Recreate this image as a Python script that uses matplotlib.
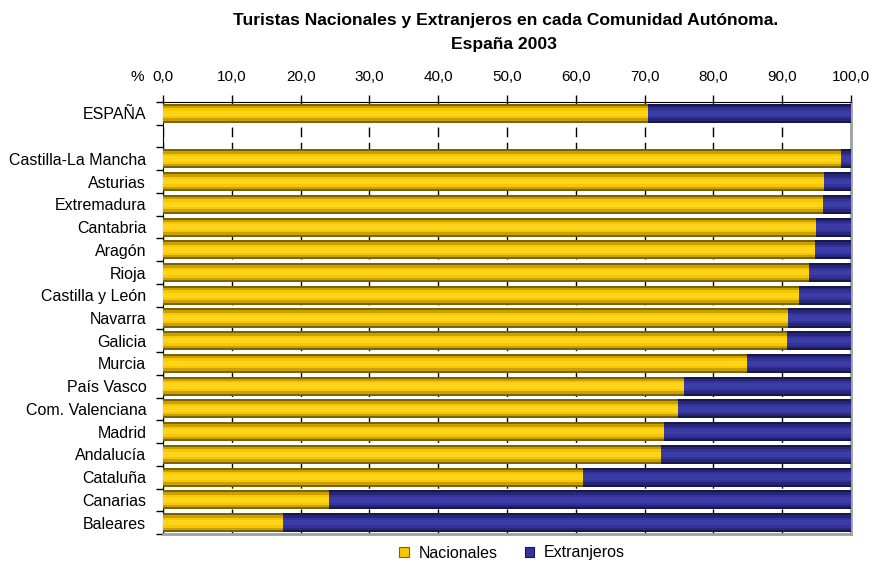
import matplotlib.pyplot as plt
import numpy as np
from matplotlib.patches import Patch

plt.rcParams['font.family'] = ['Liberation Sans', 'DejaVu Sans']

regions = ["ESPAÑA", "", "Castilla-La Mancha", "Asturias", "Extremadura", "Cantabria",
           "Aragón", "Rioja", "Castilla y León", "Navarra", "Galicia", "Murcia",
           "País Vasco", "Com. Valenciana", "Madrid", "Andalucía", "Cataluña",
           "Canarias", "Baleares"]
nacionales = [70.5, np.nan, 98.6, 96.1, 95.9, 94.9, 94.7, 93.9, 92.5, 90.8, 90.7,
              84.9, 75.7, 74.8, 72.8, 72.4, 61.0, 24.1, 17.4]
extranjeros = [100 - v for v in nacionales]
x_ticks = [0, 10, 20, 30, 40, 50, 60, 70, 80, 90, 100]

yellow = ["#7d6200", "#c9a000", "#f7c800", "#ffd41a"]
blue = ["#17174a", "#26267a", "#333399", "#3c3ca6"]
heights = [0.84, 0.66, 0.44, 0.24]

fig = plt.figure(figsize=(8.73, 5.63), dpi=100)
ax = fig.add_axes([163 / 873, 1 - 534 / 563, 688 / 873, 432 / 563])

y = np.arange(len(regions))[::-1]
nac = np.array(nacionales)
ext = np.array(extranjeros)
mask = ~np.isnan(nac)

# layered bars to fake the cylinder shading
for h, cy, cb in zip(heights, yellow, blue):
    ax.barh(y[mask], nac[mask], height=h, color=cy, zorder=3, linewidth=0)
    ax.barh(y[mask], ext[mask], left=nac[mask], height=h, color=cb, zorder=3, linewidth=0)

ax.set_xlim(0, 100)
ax.set_ylim(-0.5, len(regions) - 0.5)

ax.xaxis.tick_top()
ax.set_xticks(x_ticks)
ax.set_xticklabels([f"{v:.1f}".replace(".", ",") for v in x_ticks], fontsize=11)
ax.tick_params(axis='x', direction='out', length=5, width=1, pad=8, color='black')
ax.xaxis.grid(True, linestyle=(0, (7, 4)), color='black', linewidth=1, zorder=1)

ax.set_yticks(y)
ax.set_yticklabels(regions, fontsize=11.5)
ax.tick_params(axis='y', length=0, pad=12)
ax.set_yticks(np.arange(-0.5, len(regions), 1), minor=True)
ax.tick_params(axis='y', which='minor', direction='out', length=5, width=1, color='black')

ax.spines['left'].set_color('black')
ax.spines['top'].set_color('black')
ax.spines['right'].set_color('#a0a0a0')
ax.spines['right'].set_linewidth(2)
ax.spines['bottom'].set_color('#a0a0a0')
ax.spines['bottom'].set_linewidth(2)

fig.text(137 / 873, 1 - 77 / 563, "%", fontsize=11, ha='center', va='center')

fig.text(506 / 873, 1 - 20 / 563, "Turistas Nacionales y Extranjeros en cada Comunidad Autónoma.",
         fontsize=12.6, fontweight='bold', ha='center', va='center')
fig.text(504 / 873, 1 - 45 / 563, "España 2003",
         fontsize=12.6, fontweight='bold', ha='center', va='center')

handles = [Patch(facecolor="#f7c800", edgecolor="#7d6200", linewidth=0.8, label="Nacionales"),
           Patch(facecolor="#333399", edgecolor="#17174a", linewidth=0.8, label="Extranjeros")]
fig.legend(handles=handles, loc='center', bbox_to_anchor=(512 / 873, 1 - 553 / 563),
           ncol=2, frameon=False, fontsize=11.5, handlelength=0.6, handleheight=0.6,
           columnspacing=1.7, handletextpad=0.6)

fig.savefig("out.png", dpi=100)
